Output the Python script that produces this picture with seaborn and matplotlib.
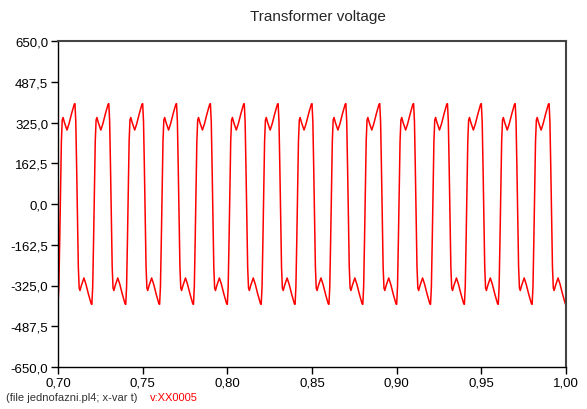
import numpy as np
import pandas as pd
import matplotlib
matplotlib.use("Agg")
import matplotlib.pyplot as plt
import matplotlib.ticker as mticker
import seaborn as sns

# One cycle of the waveform (phase in ms, voltage)
cycle_phase_ms = [0.0, 0.5, 1.0, 1.5, 2.0, 2.5, 3.0, 3.8, 5.3, 6.5, 8.0, 9.6,
                  10.0, 10.5, 11.0, 11.5, 12.0, 12.5, 13.0, 13.8, 15.3, 16.5, 18.0, 19.6]
cycle_volts = [-400, -330, -150, 60, 250, 335, 345, 325, 295, 320, 360, 398,
               400, 330, 150, -60, -250, -335, -345, -325, -295, -320, -360, -398]
t_start = 0.70
period_s = 0.02
n_cycles = 15
end_volt = -400

y_ticks = [-650.0, -487.5, -325.0, -162.5, 0.0, 162.5, 325.0, 487.5, 650.0]
x_ticks = [0.70, 0.75, 0.80, 0.85, 0.90, 0.95, 1.00]

times, volts = [], []
for k in range(n_cycles):
    for p, v in zip(cycle_phase_ms, cycle_volts):
        times.append(t_start + k * period_s + p / 1000.0)
        volts.append(v)
times.append(t_start + n_cycles * period_s)
volts.append(end_volt)
df = pd.DataFrame({"t": times, "v": volts})

sns.set_style("ticks")
plt.rcParams["font.family"] = ["Liberation Sans", "DejaVu Sans"]

fig = plt.figure(figsize=(5.87, 4.10), dpi=100)
ax = fig.add_axes([58/587, 1 - 368/410, (566-58)/587, (368-42)/410])
sns.lineplot(data=df, x="t", y="v", ax=ax, color="#ff0000", linewidth=1.1, sort=False)

ax.set_xlim(0.70, 1.00)
ax.set_ylim(-650, 650)
ax.set_xticks(x_ticks)
ax.set_yticks(y_ticks)
ax.xaxis.set_major_formatter(mticker.FuncFormatter(lambda x, p: f"{x:.2f}".replace(".", ",")))
ax.yaxis.set_major_formatter(mticker.FuncFormatter(lambda y, p: f"{y:.1f}".replace(".", ",")))
ax.tick_params(axis="both", direction="out", length=5, width=1, colors="black", labelsize=9.5, pad=2,
               top=False, right=False)
ax.set_xlabel("")
ax.set_ylabel("")
for s in ["left", "bottom"]:
    ax.spines[s].set_color("black")
    ax.spines[s].set_linewidth(1.0)
for s in ["top", "right"]:
    ax.spines[s].set_color("#444444")
    ax.spines[s].set_linewidth(1.5)

fig.text(318/587, 1 - 17/410, "Transformer voltage", ha="center", va="center", fontsize=11)
fig.text(6/587, 1 - 398/410, "(file jednofazni.pl4; x-var t)", ha="left", va="center",
         fontsize=8, color="#333333")
fig.text(150/587, 1 - 398/410, "v:XX0005", ha="left", va="center", fontsize=8, color="#ff0000")

fig.savefig("out.png", dpi=100)
